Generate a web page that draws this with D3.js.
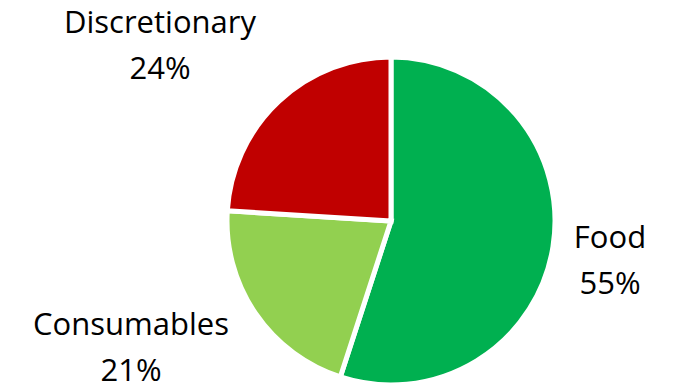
<!DOCTYPE html>
<html>
<head>
<meta charset="utf-8">
<script src="https://cdn.jsdelivr.net/npm/d3@7"></script>
<style>
  html, body { margin: 0; padding: 0; background: #fff; }
  svg { display: block; }
  text { font-variant-ligatures: none; }
</style>
</head>
<body>
<svg id="chart" width="674" height="386"></svg>
<script>
// Spending mix by category
const categories = ["Food", "Consumables", "Discretionary"];
const shares = [55, 21, 24];
const colors = ["#00B050", "#92D050", "#C00000"];

// Label anchor points (centre x, first baseline y) per category
const labelX = [610, 131, 160];
const labelY = [248, 335, 33];

const width = 674, height = 386;
const cx = 391, cy = 221, radius = 164;

const svg = d3.select("#chart");

const pie = d3.pie().sort(null).value(d => d.value);
const arc = d3.arc().innerRadius(0).outerRadius(radius);

const data = categories.map((c, i) => ({ name: c, value: shares[i], color: colors[i] }));

const g = svg.append("g").attr("transform", `translate(${cx},${cy})`);

g.selectAll("path")
  .data(pie(data))
  .join("path")
  .attr("d", arc)
  .attr("fill", d => d.data.color)
  .attr("stroke", "#fff")
  .attr("stroke-width", 5)
  .attr("stroke-linejoin", "miter");

const labels = svg.append("g")
  .attr("font-family", "'Open Sans', sans-serif")
  .attr("font-size", 31)
  .attr("fill", "#000")
  .attr("text-anchor", "middle");

data.forEach((d, i) => {
  const t = labels.append("text").attr("x", labelX[i]).attr("y", labelY[i]);
  t.append("tspan").attr("x", labelX[i]).text(d.name);
  t.append("tspan").attr("x", labelX[i]).attr("dy", 46).text(d.value + "%");
});
</script>
</body>
</html>
